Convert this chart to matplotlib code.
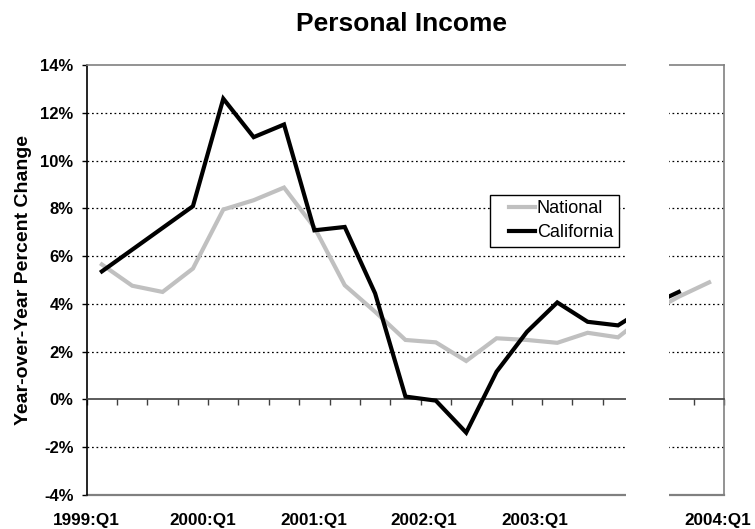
import numpy as np
import matplotlib
matplotlib.use("Agg")
import matplotlib.pyplot as plt
from matplotlib.patches import Rectangle
from matplotlib.legend_handler import HandlerLine2D
from matplotlib.transforms import blended_transform_factory

plt.rcParams["font.family"] = ["Liberation Sans", "DejaVu Sans"]

# Quarterly year-over-year percent change in personal income
quarters = ["1999:Q1", "1999:Q2", "1999:Q3", "1999:Q4",
            "2000:Q1", "2000:Q2", "2000:Q3", "2000:Q4",
            "2001:Q1", "2001:Q2", "2001:Q3", "2001:Q4",
            "2002:Q1", "2002:Q2", "2002:Q3", "2002:Q4",
            "2003:Q1", "2003:Q2", "2003:Q3", "2003:Q4",
            "2004:Q1"]
national = [5.65, 4.76, 4.50, 5.48, 7.95, 8.34, 8.87, 7.20, 4.78, 3.67, 2.49,
            2.39, 1.61, 2.56, 2.49, 2.37, 2.79, 2.60, 3.60, 4.30, 4.90]
california = [5.36, 6.27, 7.18, 8.09, 12.59, 10.98, 11.51, 7.08, 7.22, 4.44, 0.12,
              -0.05, -1.39, 1.16, 2.83, 4.06, 3.25, 3.10, 3.90, 4.50, np.nan]

# axis labels sit where the text boxes were placed, in category units
year_labels = ["1999:Q1", "2000:Q1", "2001:Q1", "2002:Q1", "2003:Q1", "2004:Q1"]
year_label_pos = [0.0, 3.82, 7.48, 11.11, 14.77, 20.77]

# blank strip across the plot, in category units
blank_span = (17.75, 19.19)

y_ticks = [-4, -2, 0, 2, 4, 6, 8, 10, 12, 14]
grid_levels = [-2, 2, 4, 6, 8, 10, 12]

fig = plt.figure(figsize=(7.55, 5.29), dpi=100)
ax = fig.add_axes([0.1148, 0.0643, 0.8445, 0.8128])

x = np.arange(len(quarters)) + 0.5
ax.plot(x, national, color="#c0c0c0", lw=3.0, label="National",
        solid_joinstyle="miter", zorder=3)
ax.plot(x, california, color="black", lw=3.0, label="California",
        solid_joinstyle="miter", zorder=4)

for g in grid_levels:
    ax.axhline(g, color="black", lw=0.9, ls=(0, (1.4, 2.2)), zorder=1)

ax.set_xlim(0, len(quarters))
ax.set_ylim(-4, 14)

# zero line carries the quarter ticks
ax.spines["bottom"].set_position(("data", 0))
ax.spines["bottom"].set_color("#404040")
ax.spines["bottom"].set_linewidth(1.2)
ax.spines["left"].set_color("black")
ax.spines["left"].set_linewidth(1.2)
for side in ("top", "right"):
    ax.spines[side].set_color("#808080")
    ax.spines[side].set_linewidth(1.2)
ax.axhline(-4, color="#808080", lw=1.6, clip_on=False, zorder=2)

ax.set_xticks(np.arange(len(quarters) + 1))
ax.set_xticklabels([])
ax.tick_params(axis="x", direction="out", length=4, width=1, color="#404040")
ax.set_yticks(y_ticks)
ax.set_yticklabels([f"{t}%" for t in y_ticks], fontsize=12, fontweight="bold")
ax.tick_params(axis="y", direction="out", length=3.5, width=1, pad=6)

trans = blended_transform_factory(ax.transData, fig.transFigure)
for lab, pos in zip(year_labels, year_label_pos):
    ax.text(pos, 1 - 520 / 529, lab, transform=trans, ha="center", va="center",
            fontsize=12.3, fontweight="bold")

ax.set_ylabel("Year-over-Year Percent Change", fontsize=14, fontweight="bold")
ax.yaxis.set_label_coords(-0.0858, 0.5)
fig.text(401 / 755, 1 - 24 / 529, "Personal Income", ha="center", va="center",
         fontsize=19, fontweight="bold")

leg = ax.legend(loc="upper left", bbox_to_anchor=(0.6325, 0.5814, 0.2027, 0.1163),
                mode="expand", borderaxespad=0, fontsize=13, handlelength=2.19,
                handletextpad=0.11, borderpad=0.3, labelspacing=0.38,
                fancybox=False, framealpha=1, edgecolor="black",
                handler_map={plt.Line2D: HandlerLine2D(xpad=0.73)})
leg.get_frame().set_linewidth(1.0)

fig.patches.append(Rectangle((blank_span[0], 0), blank_span[1] - blank_span[0], 1,
                             transform=trans, facecolor="white", edgecolor="none",
                             zorder=10))

fig.savefig("out.png", dpi=100, facecolor="white")
